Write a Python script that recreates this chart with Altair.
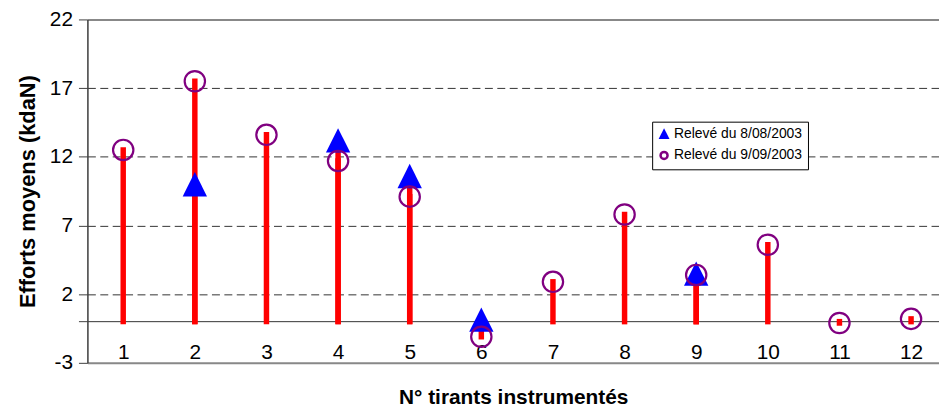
import altair as alt
import pandas as pd

categories = list(range(1, 13))
releve_0808 = [None, 10.0, None, 13.2, 10.6, 0.15, None, None, 3.5, None, None, None]
releve_0909 = [12.5, 17.5, 13.6, 11.7, 9.1, -1.1, 2.9, 7.8, 3.4, 5.6, -0.1, 0.2]
series_names = ["Relevé du 8/08/2003", "Relevé du 9/09/2003"]
y_ticks = [-3, 0, 2, 7, 12, 17, 22]

rows = []
for name, vals in zip(series_names, [releve_0808, releve_0909]):
    for c, v in zip(categories, vals):
        if v is not None:
            rows.append({"tirant": c, "effort": v, "serie": name})
df = pd.DataFrame(rows)

FONT = "Liberation Sans"
TRI = "M0,-1.55L1.55,1.55L-1.55,1.55Z"

x_enc = alt.X(
    "tirant:Q",
    scale=alt.Scale(domain=[0.5, 12.39], nice=False, zero=False),
    axis=alt.Axis(
        values=categories, format="d", title="N° tirants instrumentés",
        domain=False, ticks=False, tickSize=0, grid=False,
        labelPadding=-10, labelBaseline="middle", labelFontSize=21,
        labelFont=FONT, labelColor="black",
        titleFont=FONT, titleFontSize=21, titleFontWeight="bold", titleColor="black",
        titleY=35, titleBaseline="middle",
    ),
)

y_enc = alt.Y(
    "effort:Q",
    scale=alt.Scale(domain=[-3, 22], nice=False, zero=False),
    axis=alt.Axis(
        values=y_ticks, title="Efforts moyens (kdaN)",
        labelExpr="datum.value == 0 ? '' : toString(datum.value)",
        tickSize=9, labelPadding=6, tickColor="#404040", tickWidth=1,
        domainColor="#404040", domainWidth=1.5,
        labelFontSize=21, labelFont=FONT, labelColor="black",
        titleFont=FONT, titleFontSize=22, titleFontWeight="bold", titleColor="black",
        titleX=-60, titleBaseline="middle",
        grid=True,
        gridDash={"condition": {"test": "datum.value == 0 || datum.value == -3 || datum.value == 22", "value": []}, "value": [8, 4.5]},
        gridColor={"condition": {"test": "datum.value == -3 || datum.value == 22", "value": "#888888"}, "value": "#333333"},
        gridWidth={"condition": {"test": "datum.value == -3 || datum.value == 22", "value": 2}, "value": 1},
        gridOpacity=1,
    ),
)

base = alt.Chart(df)

rules = base.mark_rule(color="#FF0000", strokeWidth=5.5, strokeCap="square").encode(
    x=x_enc, y=y_enc, y2=alt.datum(0)
)

legend = alt.Legend(
    title=None, orient="none", legendX=569, legendY=103,
    fillColor="white", strokeColor="black", padding=5,
    symbolSize=50, symbolStrokeWidth=2.5, labelFontSize=14, labelFont=FONT,
    labelColor="black", rowPadding=2, labelOffset=3,
)

shape_enc = alt.Shape("serie:N", scale=alt.Scale(domain=series_names, range=[TRI, "circle"]), legend=legend)
fill_enc = alt.Fill("serie:N", scale=alt.Scale(domain=series_names, range=["#0000FF", "transparent"]), legend=legend)
stroke_enc = alt.Stroke("serie:N", scale=alt.Scale(domain=series_names, range=["transparent", "#800080"]), legend=legend)

triangles = base.transform_filter(alt.datum.serie == series_names[0]).mark_point(
    filled=True, size=250, opacity=1, strokeWidth=2.2
).encode(x=x_enc, y=y_enc, shape=shape_enc, fill=fill_enc, stroke=stroke_enc)

circles = base.transform_filter(alt.datum.serie == series_names[1]).mark_point(
    filled=True, size=420, opacity=1, strokeWidth=2.2
).encode(x=x_enc, y=y_enc, shape=shape_enc, fill=fill_enc, stroke=stroke_enc)

chart = alt.layer(rules, triangles, circles).properties(
    width=858, height=346,
    autosize=alt.AutoSizeParams(type="none"),
    padding={"left": 80, "top": 10, "right": 0, "bottom": 47},
).configure_view(stroke=None).configure(background="white")

chart.save("out.html", embed_options={"renderer": "svg", "actions": False})
